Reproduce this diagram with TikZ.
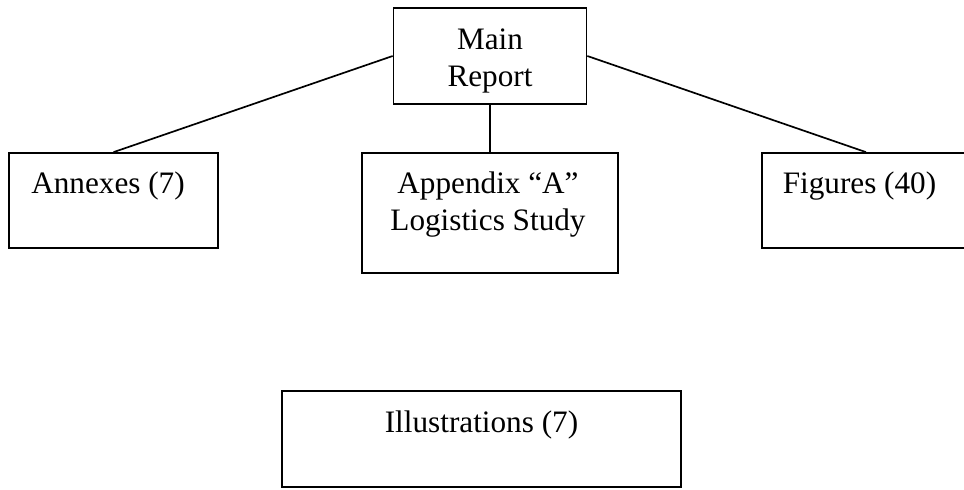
\documentclass[tikz,border=0pt]{standalone}
\usepackage{fontspec}
\setmainfont{Liberation Serif}
\usepackage{xcolor}
\usepackage{tikz}
\tikzset{
	box/.style = {draw, line width = 1.2pt, inner sep = 0pt},
	lbl/.style = {anchor = base, inner sep = 0pt, align = center,
		font = \fontsize{22.2}{26.3}\selectfont}
}

\begin{document}
\begin{tikzpicture}[x = 0.025cm, y = -0.025cm, line width = 1.2pt]
		\clip (0,0) rectangle (964,489);
		\node (main) at (490,56) [box, minimum width = 4.825cm, minimum height = 2.4cm] {};
		\node (annex) at (113.5,200.5) [box, minimum width = 5.225cm, minimum height = 2.375cm] {};
		\node (appx) at (490,213) [box, minimum width = 6.4cm, minimum height = 3cm] {};
		\node (figs) at (866,200.5) [box, minimum width = 5.2cm, minimum height = 2.375cm] {};
		\node (illus) at (481.5,439) [box, minimum width = 9.975cm, minimum height = 2.4cm] {};
		\node (mainlbl) at (490,86) [lbl] {Main\\Report};
		\node (annexlbl) at (108,193) [lbl] {Annexes (7)};
		\node (appxlbl) at (488,230) [lbl] {Appendix “A”\\Logistics Study};
		\node (figslbl) at (859.5,193) [lbl] {Figures (40)};
		\node (illuslbl) at (481.5,432) [lbl] {Illustrations (7)};
		\draw (main.west) edge (annex.north);
		\draw (main.south) edge (appx.north);
		\draw (main.east) edge (figs.north);
		\end{tikzpicture}
\end{document}
